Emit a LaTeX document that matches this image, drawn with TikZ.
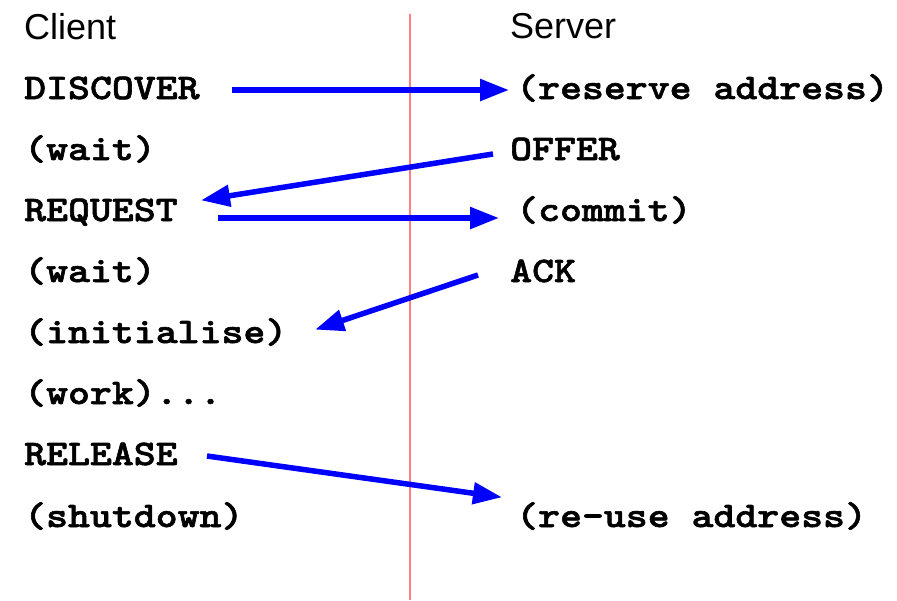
\documentclass[tikz,border=0pt]{standalone}
\usepackage{fontspec}
\setmainfont{Liberation Sans}
\newfontfamily\cmono{lmmonolt10-bold.otf}[FakeStretch=1.16,FakeBold=1.6]
\usetikzlibrary{arrows.meta}
\definecolor{msgblue}{RGB}{0,0,255}
\definecolor{divred}{RGB}{255,128,128}
\tikzset{
  head/.style={anchor=base west,inner sep=0pt,font=\fontsize{36}{36}\selectfont},
  msg/.style={anchor=base west,inner sep=0pt,font=\cmono\fontsize{36}{36}\selectfont},
  msgarrow/.style={draw=msgblue,line width=5.5pt,-{Triangle[length=29pt,width=21pt]},shorten >=-2pt},
  divider/.style={draw=divred,line width=1.5pt}
}
\begin{document}
\begin{tikzpicture}[x=1pt,y=-1pt]
\useasboundingbox (0,0) rectangle (897,600);
% divider
\coordinate (dtop) at (410,14);
\coordinate (dbot) at (410,600);
\draw[divider] (dtop) -- (dbot);
% headings
\node[head] (client) at (24,39) {Client};
\node[head] (server) at (510,38) {Server};
% client column
\node[msg] (discover) at (24,99) {DISCOVER};
\node[msg] (wait1) at (24,160) {(wait)};
\node[msg] (request) at (24,221) {REQUEST};
\node[msg] (wait2) at (24,282) {(wait)};
\node[msg] (init) at (24,343) {(initialise)};
\node[msg] (work) at (24,404) {(work)...};
\node[msg] (release) at (24,465) {RELEASE};
\node[msg] (shutdown) at (24,527) {(shutdown)};
% server column
\node[msg] (reserve) at (516,99) {(reserve address)};
\node[msg] (offer) at (510,160) {OFFER};
\node[msg] (commit) at (516,221) {(commit)};
\node[msg] (ack) at (510,282) {ACK};
\node[msg] (reuse) at (516,527) {(re-use address)};
% arrow ends
\coordinate (a1s) at (232,90);  \coordinate (a1e) at (507,90);
\coordinate (a2s) at (493,154); \coordinate (a2e) at (203,200);
\coordinate (a3s) at (218,218); \coordinate (a3e) at (497,218);
\coordinate (a4s) at (478,275); \coordinate (a4e) at (317,329);
\coordinate (a5s) at (207,456); \coordinate (a5e) at (500,497);
\draw[msgarrow] (a1s) -- (a1e);
\draw[msgarrow] (a2s) -- (a2e);
\draw[msgarrow] (a3s) -- (a3e);
\draw[msgarrow] (a4s) -- (a4e);
\draw[msgarrow] (a5s) -- (a5e);
\end{tikzpicture}
\end{document}
